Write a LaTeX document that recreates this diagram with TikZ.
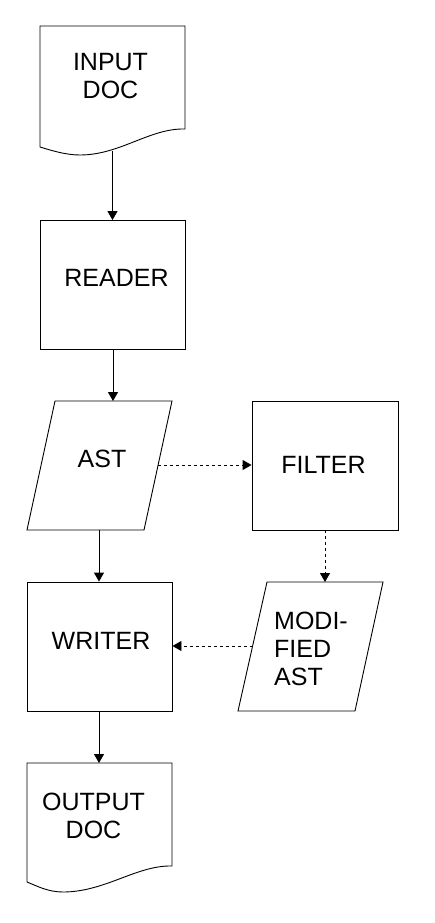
\documentclass[tikz,border=0pt]{standalone}
\usepackage{fontspec}
\setmainfont{Liberation Sans}
\usetikzlibrary{arrows.meta}
\begin{document}
\begin{tikzpicture}[x=1pt,y=-1pt,
  shapeline/.style={draw=black,line width=0.9pt,fill=white,line join=miter},
  box/.style={shapeline,minimum width=145pt,minimum height=129pt,inner sep=0pt},
  lbl/.style={font=\fontsize{25}{28}\selectfont,inner sep=0pt,align=center},
  arr/.style={line width=0.9pt,-{Triangle[length=9pt,width=10pt]}},
  darr/.style={arr,dash pattern=on 3pt off 3pt}]
\useasboundingbox (0,0) rectangle (434,923);
\fill[white] (0,0) rectangle (434,923);

% input document
\draw[shapeline] (40,26) -- (185,26) -- (185,129)
  .. controls (150,128) and (120,155) .. (80,155)
  .. controls (65,155) and (50,150) .. (40,147) -- cycle;
\coordinate (inB) at (112.5,151);

% reader
\node[box] (reader) at (112.5,285) {};

% AST parallelogram
\draw[shapeline] (55,401) -- (172,401) -- (144,530) -- (27,530) -- cycle;
\coordinate (astT) at (113,401);
\coordinate (astR) at (158,465);
\coordinate (astB) at (99,530);

% filter
\node[box,minimum width=146pt] (filter) at (325,465.5) {};

% modified AST parallelogram
\draw[shapeline] (267,582) -- (383,582) -- (355,711) -- (238,711) -- cycle;
\coordinate (modT) at (325,582);
\coordinate (modL) at (252.5,646);

% writer
\node[box] (writer) at (99.5,646.5) {};

% output document
\draw[shapeline] (27,763) -- (172,763) -- (172,866)
  .. controls (137,865) and (105,892) .. (63,892)
  .. controls (48,892) and (37,886) .. (27,882) -- cycle;
\coordinate (outT) at (99,763);

% texts
\node[lbl] (tin) at (110.5,76.5) {INPUT\\DOC};
\node[lbl] (trd) at (116.5,278) {READER};
\node[lbl] (tast) at (102,459) {AST};
\node[lbl] (tfil) at (323.5,465) {FILTER};
\node[lbl] (twr) at (101,641) {WRITER};
\node[lbl,align=left,anchor=west] (tmod) at (274,648.5) {MODI-\\FIED\\AST};
\node[lbl] (tout) at (93.5,816) {OUTPUT\\DOC};

% connectors
\draw[arr] (inB) -- (reader.north);
\draw[arr] (reader.south -| astT) -- (astT);
\draw[darr] (astR) -- (astR -| filter.west);
\draw[arr] (astB) -- (astB |- writer.north);
\draw[darr] (filter.south -| modT) -- (modT);
\draw[darr] (modL) -- (modL -| writer.east);
\draw[arr] (writer.south -| outT) -- (outT);
\end{tikzpicture}
\end{document}
